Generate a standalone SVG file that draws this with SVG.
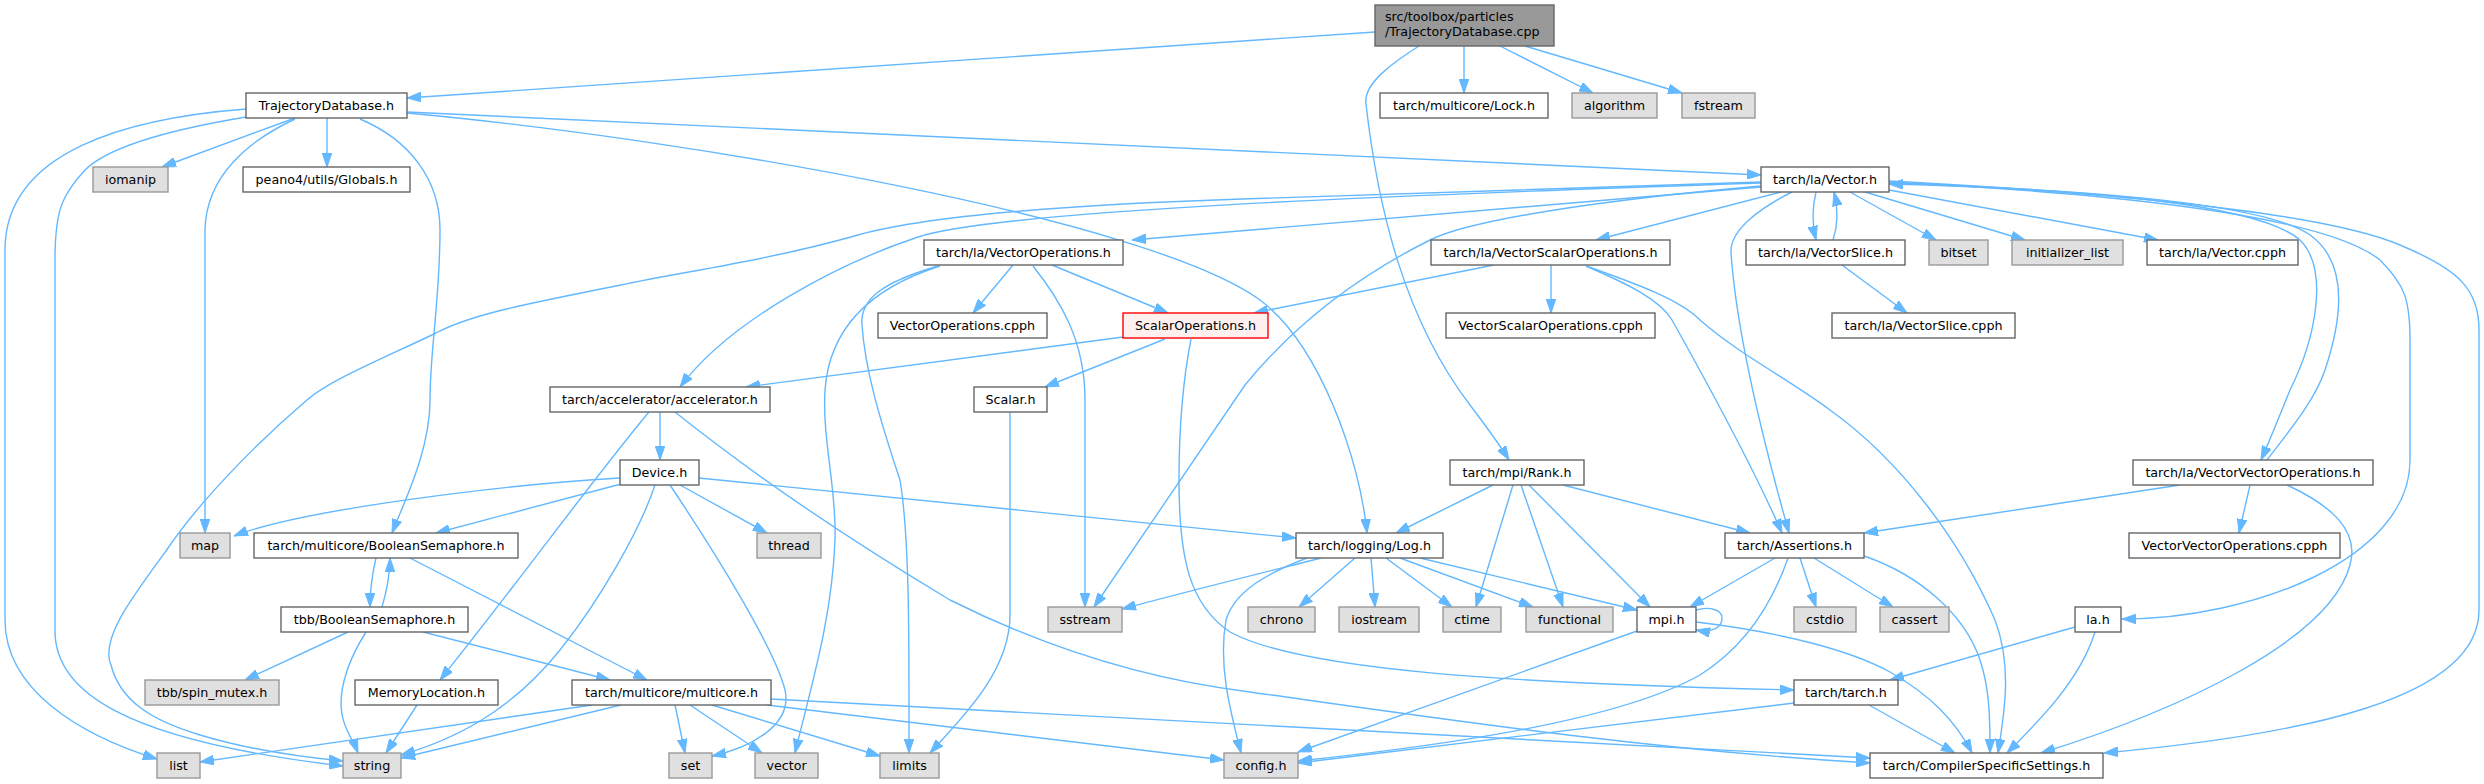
<svg xmlns="http://www.w3.org/2000/svg" width="2484" height="784" viewBox="0 0 2484 784">
<style>
text{font-family:"DejaVu Sans","Liberation Sans",sans-serif;font-size:12.7px;fill:#000;text-anchor:middle}
.n rect{fill:#fff;stroke:#666;stroke-width:1.4}
.g rect{fill:#e0e0e0;stroke:#999;stroke-width:1.4}
.r rect{fill:#999;stroke:#666;stroke-width:1.4}
.x rect{fill:#fff0f0;stroke:#f00;stroke-width:1.4}
#edges path{fill:none;stroke:#63b8ff;stroke-width:1.4;marker-end:url(#a)}
</style>
<defs>
<marker id="a" markerWidth="14" markerHeight="10" refX="14" refY="5" orient="auto" markerUnits="userSpaceOnUse">
<path d="M0,0.2 L14,5 L0,9.8 z" fill="#63b8ff" stroke="#63b8ff" stroke-width="1"/>
</marker>
</defs>
<rect width="2484" height="784" fill="#fff"/>
<g id="edges">
<path d="M1375,32 L407,98"/>
<path d="M1419,46 C1392,63 1363,84 1366,104 C1378,210 1405,320 1470,405 C1485,425 1498,442 1509,460"/>
<path d="M1464,46 L1464,93"/>
<path d="M1500,46 L1593,93"/>
<path d="M1525,46 L1682,93"/>
<path d="M295,118 L162,167"/>
<path d="M327,118 L327,167"/>
<path d="M246,109 C130,118 5,150 5,250 L5,620 C5,690 80,735 157,759"/>
<path d="M246,117 C180,128 110,145 85,170 C62,195 55,210 55,260 L55,631 C55,690 120,740 343,766"/>
<path d="M295,119 C250,140 206,175 205,230 L205,533"/>
<path d="M360,119 C410,140 440,180 440,230 C440,300 430,350 430,400 C430,450 405,500 392,533"/>
<path d="M407,112 L1761,175"/>
<path d="M407,113 C700,140 1150,220 1260,300 C1320,345 1360,460 1367,533"/>
<path d="M1761,187 L1132,240"/>
<path d="M1781,192 L1596,240"/>
<path d="M1816,192 C1812,208 1812,224 1816,240"/>
<path d="M1833,240 C1838,225 1838,208 1834,192"/>
<path d="M1842,265 L1907,313"/>
<path d="M1850,192 L1936,240"/>
<path d="M1865,192 L2025,240"/>
<path d="M1889,190 L2158,240"/>
<path d="M1889,183 C2100,190 2260,205 2300,240 C2330,270 2315,340 2290,390 C2280,415 2270,440 2261,460"/>
<path d="M2267,460 C2290,430 2315,400 2325,370 C2345,310 2345,260 2310,235 C2260,200 2050,188 1889,184"/>
<path d="M1889,182 C2150,195 2330,220 2380,260 C2405,285 2410,300 2410,340 L2410,460 C2410,560 2250,619 2122,619"/>
<path d="M1889,181 C2150,195 2330,215 2400,245 C2460,270 2479,290 2479,330 L2479,610 C2479,700 2300,735 2104,753"/>
<path d="M1792,192 C1760,208 1730,230 1731,252 C1736,330 1760,430 1789,533"/>
<path d="M1761,186 C1600,200 1470,220 1430,240 C1350,280 1290,330 1245,385 L1094,607"/>
<path d="M1761,183 C1400,195 1000,210 918,237 C840,263 730,320 680,387"/>
<path d="M1761,182 L1242,199 C1000,207 900,222 851,237 C760,262 680,272 621,285 C520,305 470,315 436,333 C380,360 330,380 307,400 C260,440 200,500 166,551 C130,600 100,640 111,665 C120,700 150,720 200,735 C250,750 300,757 343,761"/>
<path d="M1013,265 L973,313"/>
<path d="M1052,265 L1168,313"/>
<path d="M940,266 C880,285 830,320 825,390 C822,440 837,490 835,540 C832,620 810,690 795,753"/>
<path d="M938,266 C880,283 860,300 862,325 C865,370 880,420 900,480 C910,540 909,650 909,753"/>
<path d="M1033,266 C1060,300 1085,340 1085,400 L1085,607"/>
<path d="M1494,265 L1254,313"/>
<path d="M1551,265 L1551,313"/>
<path d="M1586,266 C1630,285 1660,300 1672,320 C1700,370 1750,460 1782,533"/>
<path d="M1586,266 C1640,285 1680,300 1700,320 C1740,355 1790,380 1830,410 C1900,460 1960,540 1995,620 C2012,665 2005,710 1998,753"/>
<path d="M1123,337 L746,387"/>
<path d="M1165,339 L1045,387"/>
<path d="M1191,339 C1183,380 1179,420 1179,480 C1179,560 1190,605 1230,632 C1300,670 1500,683 1794,690"/>
<path d="M1010,412 L1010,615 C1010,670 965,715 930,753"/>
<path d="M660,412 L660,460"/>
<path d="M649,412 C600,470 520,580 440,680"/>
<path d="M675,412 C760,480 850,540 950,600 C1050,650 1150,680 1250,692 C1450,720 1650,750 1870,763"/>
<path d="M620,478 C500,485 300,510 234,536"/>
<path d="M621,484 L436,533"/>
<path d="M680,485 L767,533"/>
<path d="M699,478 L1296,538"/>
<path d="M655,485 C640,530 600,600 560,650 C520,700 470,735 401,755"/>
<path d="M670,485 C720,560 775,650 785,690 C793,725 750,748 712,756"/>
<path d="M376,558 C372,575 370,590 370,607"/>
<path d="M382,607 C387,590 390,575 390,558"/>
<path d="M410,558 L647,680"/>
<path d="M348,632 L245,680"/>
<path d="M366,632 C345,665 335,700 345,725 C350,738 355,745 358,753"/>
<path d="M423,632 L610,680"/>
<path d="M417,705 L386,753"/>
<path d="M592,705 L200,762"/>
<path d="M621,705 L401,758"/>
<path d="M675,705 L685,753"/>
<path d="M690,705 L762,753"/>
<path d="M712,705 L880,756"/>
<path d="M767,705 L1224,760"/>
<path d="M771,699 L1870,758"/>
<path d="M1493,485 L1396,533"/>
<path d="M1513,485 L1476,607"/>
<path d="M1521,485 L1563,607"/>
<path d="M1529,485 L1650,607"/>
<path d="M1563,485 L1750,533"/>
<path d="M1321,558 C1290,566 1200,588 1122,609"/>
<path d="M1307,558 C1270,572 1235,590 1226,620 C1218,665 1230,710 1241,753"/>
<path d="M1355,558 L1299,607"/>
<path d="M1371,558 L1375,607"/>
<path d="M1386,558 L1452,607"/>
<path d="M1400,558 L1533,607"/>
<path d="M1420,558 L1637,610"/>
<path d="M1775,558 L1690,607"/>
<path d="M1788,558 C1770,610 1740,650 1700,675 C1620,720 1450,745 1298,761"/>
<path d="M1800,558 L1816,607"/>
<path d="M1814,558 L1893,607"/>
<path d="M1864,556 C1920,575 1965,615 1980,660 C1990,690 1990,720 1990,753"/>
<path d="M1696,610 C1710,606 1722,610 1722,618 C1722,628 1712,633 1696,630"/>
<path d="M1637,631 L1298,752"/>
<path d="M1696,622 C1780,632 1850,650 1890,672 C1930,695 1955,720 1972,753"/>
<path d="M1794,703 L1298,763"/>
<path d="M1869,705 L1955,753"/>
<path d="M2075,627 L1890,680"/>
<path d="M2095,632 C2080,680 2040,720 2007,753"/>
<path d="M2180,485 L1864,533"/>
<path d="M2250,485 L2239,533"/>
<path d="M2287,485 C2330,505 2360,530 2350,565 C2330,640 2180,710 2041,753"/>
</g>
<g id="root" class="r"><rect x="1375" y="5" width="179" height="41"/><text x="1385" y="21" style="text-anchor:start">src/toolbox/particles</text><text x="1385" y="36" style="text-anchor:start">/TrajectoryDatabase.cpp</text></g>
<g id="TrajectoryDatabase_h" class="n"><rect x="246" y="93" width="161" height="25"/><text x="326.5" y="110">TrajectoryDatabase.h</text></g>
<g id="Lock_h" class="n"><rect x="1380" y="93" width="168" height="25"/><text x="1464" y="110">tarch/multicore/Lock.h</text></g>
<g id="algorithm" class="g"><rect x="1572" y="93" width="85" height="25"/><text x="1614.5" y="110">algorithm</text></g>
<g id="fstream" class="g"><rect x="1682" y="93" width="73" height="25"/><text x="1718.5" y="110">fstream</text></g>
<g id="iomanip" class="g"><rect x="93" y="167" width="75" height="25"/><text x="130.5" y="184">iomanip</text></g>
<g id="Globals_h" class="n"><rect x="243" y="167" width="167" height="25"/><text x="326.5" y="184">peano4/utils/Globals.h</text></g>
<g id="Vector_h" class="n"><rect x="1761" y="167" width="128" height="25"/><text x="1825" y="184">tarch/la/Vector.h</text></g>
<g id="VectorOperations_h" class="n"><rect x="924" y="240" width="199" height="25"/><text x="1023.5" y="257">tarch/la/VectorOperations.h</text></g>
<g id="VectorScalarOperations_h" class="n"><rect x="1431" y="240" width="239" height="25"/><text x="1550.5" y="257">tarch/la/VectorScalarOperations.h</text></g>
<g id="VectorSlice_h" class="n"><rect x="1746" y="240" width="159" height="25"/><text x="1825.5" y="257">tarch/la/VectorSlice.h</text></g>
<g id="bitset" class="g"><rect x="1929" y="240" width="59" height="25"/><text x="1958.5" y="257">bitset</text></g>
<g id="initializer_list" class="g"><rect x="2012" y="240" width="111" height="25"/><text x="2067.5" y="257">initializer_list</text></g>
<g id="Vector_cpph" class="n"><rect x="2147" y="240" width="151" height="25"/><text x="2222.5" y="257">tarch/la/Vector.cpph</text></g>
<g id="VectorOperations_cpph" class="n"><rect x="878" y="313" width="169" height="25"/><text x="962.5" y="330">VectorOperations.cpph</text></g>
<g id="ScalarOperations_h" class="x"><rect x="1123" y="313" width="145" height="25"/><text x="1195.5" y="330">ScalarOperations.h</text></g>
<g id="VectorScalarOperations_cpph" class="n"><rect x="1446" y="313" width="209" height="25"/><text x="1550.5" y="330">VectorScalarOperations.cpph</text></g>
<g id="VectorSlice_cpph" class="n"><rect x="1832" y="313" width="183" height="25"/><text x="1923.5" y="330">tarch/la/VectorSlice.cpph</text></g>
<g id="accelerator_h" class="n"><rect x="550" y="387" width="220" height="25"/><text x="660" y="404">tarch/accelerator/accelerator.h</text></g>
<g id="Scalar_h" class="n"><rect x="974" y="387" width="73" height="25"/><text x="1010.5" y="404">Scalar.h</text></g>
<g id="Device_h" class="n"><rect x="620" y="460" width="79" height="25"/><text x="659.5" y="477">Device.h</text></g>
<g id="Rank_h" class="n"><rect x="1450" y="460" width="134" height="25"/><text x="1517" y="477">tarch/mpi/Rank.h</text></g>
<g id="VectorVectorOperations_h" class="n"><rect x="2133" y="460" width="240" height="25"/><text x="2253" y="477">tarch/la/VectorVectorOperations.h</text></g>
<g id="map" class="g"><rect x="180" y="533" width="50" height="25"/><text x="205" y="550">map</text></g>
<g id="BooleanSemaphore_h" class="n"><rect x="254" y="533" width="264" height="25"/><text x="386" y="550">tarch/multicore/BooleanSemaphore.h</text></g>
<g id="thread" class="g"><rect x="757" y="533" width="64" height="25"/><text x="789" y="550">thread</text></g>
<g id="Log_h" class="n"><rect x="1296" y="533" width="147" height="25"/><text x="1369.5" y="550">tarch/logging/Log.h</text></g>
<g id="Assertions_h" class="n"><rect x="1725" y="533" width="139" height="25"/><text x="1794.5" y="550">tarch/Assertions.h</text></g>
<g id="VectorVectorOperations_cpph" class="n"><rect x="2129" y="533" width="211" height="25"/><text x="2234.5" y="550">VectorVectorOperations.cpph</text></g>
<g id="tbb_BooleanSemaphore_h" class="n"><rect x="281" y="607" width="187" height="25"/><text x="374.5" y="624">tbb/BooleanSemaphore.h</text></g>
<g id="sstream" class="g"><rect x="1048" y="607" width="74" height="25"/><text x="1085" y="624">sstream</text></g>
<g id="chrono" class="g"><rect x="1248" y="607" width="67" height="25"/><text x="1281.5" y="624">chrono</text></g>
<g id="iostream" class="g"><rect x="1339" y="607" width="80" height="25"/><text x="1379" y="624">iostream</text></g>
<g id="ctime" class="g"><rect x="1443" y="607" width="58" height="25"/><text x="1472" y="624">ctime</text></g>
<g id="functional" class="g"><rect x="1526" y="607" width="87" height="25"/><text x="1569.5" y="624">functional</text></g>
<g id="mpi_h" class="n"><rect x="1637" y="607" width="59" height="25"/><text x="1666.5" y="624">mpi.h</text></g>
<g id="cstdio" class="g"><rect x="1794" y="607" width="62" height="25"/><text x="1825" y="624">cstdio</text></g>
<g id="cassert" class="g"><rect x="1880" y="607" width="69" height="25"/><text x="1914.5" y="624">cassert</text></g>
<g id="la_h" class="n"><rect x="2075" y="607" width="46" height="25"/><text x="2098" y="624">la.h</text></g>
<g id="spin_mutex_h" class="g"><rect x="145" y="680" width="134" height="25"/><text x="212" y="697">tbb/spin_mutex.h</text></g>
<g id="MemoryLocation_h" class="n"><rect x="355" y="680" width="143" height="25"/><text x="426.5" y="697">MemoryLocation.h</text></g>
<g id="multicore_h" class="n"><rect x="572" y="680" width="199" height="25"/><text x="671.5" y="697">tarch/multicore/multicore.h</text></g>
<g id="tarch_h" class="n"><rect x="1794" y="680" width="104" height="25"/><text x="1846" y="697">tarch/tarch.h</text></g>
<g id="list" class="g"><rect x="157" y="753" width="43" height="25"/><text x="178.5" y="770">list</text></g>
<g id="string" class="g"><rect x="343" y="753" width="58" height="25"/><text x="372" y="770">string</text></g>
<g id="set" class="g"><rect x="669" y="753" width="43" height="25"/><text x="690.5" y="770">set</text></g>
<g id="vector" class="g"><rect x="755" y="753" width="63" height="25"/><text x="786.5" y="770">vector</text></g>
<g id="limits" class="g"><rect x="880" y="753" width="59" height="25"/><text x="909.5" y="770">limits</text></g>
<g id="config_h" class="g"><rect x="1224" y="753" width="74" height="25"/><text x="1261" y="770">config.h</text></g>
<g id="CompilerSpecificSettings_h" class="n"><rect x="1870" y="753" width="233" height="25"/><text x="1986.5" y="770">tarch/CompilerSpecificSettings.h</text></g>
</svg>
